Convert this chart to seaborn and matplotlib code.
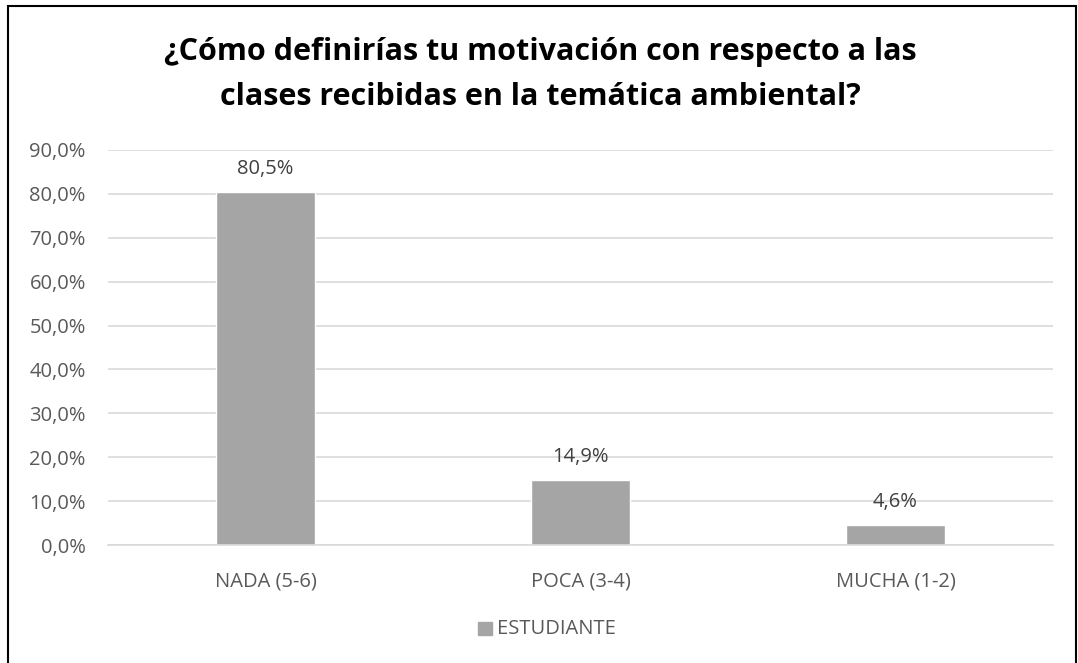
import pandas as pd
import matplotlib.pyplot as plt
import seaborn as sns
from matplotlib.patches import Rectangle
from matplotlib.ticker import FuncFormatter

# Chart data
categorias = ["NADA (5-6)", "POCA (3-4)", "MUCHA (1-2)"]
valores = [80.5, 14.9, 4.6]
serie = "ESTUDIANTE"
titulo = ["¿Cómo definirías tu motivación con respecto a las",
          "clases recibidas en la temática ambiental?"]

df = pd.DataFrame({"categoria": categorias, "valor": valores, "serie": serie})

sns.set_style("white")
plt.rcParams['font.family'] = ['Open Sans', 'DejaVu Sans']

W, H = 1078, 663
fig = plt.figure(figsize=(W / 100, H / 100), dpi=100)
ax = fig.add_axes([108 / W, 1 - 545 / H, 945 / W, 395 / H])

gray_txt = "#595959"
sns.barplot(data=df, x="categoria", y="valor", hue="serie", palette=["#A5A5A5"],
            width=0.317, saturation=1, ax=ax, legend=False)

ax.set_ylim(0, 90)
ax.set_yticks(range(0, 91, 10))
ax.yaxis.set_major_formatter(FuncFormatter(lambda v, p: f"{v:.1f}%".replace(".", ",")))
ax.grid(axis='y', color="#D9D9D9", linewidth=1.2)
ax.set_axisbelow(True)
for s in ["top", "right", "left"]:
    ax.spines[s].set_visible(False)
ax.spines["bottom"].set_color("#D9D9D9")
ax.spines["bottom"].set_linewidth(1.2)
ax.tick_params(axis='both', length=0, labelsize=14.5, colors=gray_txt)
ax.tick_params(axis='y', pad=16)
ax.tick_params(axis='x', pad=19)
ax.set_xlabel("")
ax.set_ylabel("")

# Data labels
for cont in ax.containers:
    ax.bar_label(cont, labels=[f"{v:.1f}%".replace(".", ",") for v in valores],
                 padding=9, fontsize=14.5, color="#404040")

# Title
fig.text(0.501, 1 - 52 / H, titulo[0], ha='center', va='center', fontsize=22,
         fontweight='bold', color="black")
fig.text(0.501, 1 - 97 / H, titulo[1], ha='center', va='center', fontsize=22,
         fontweight='bold', color="black")

# Legend
fig.patches.append(Rectangle((478 / W, 1 - 635 / H), 14 / W, 13 / H,
                             transform=fig.transFigure, color="#A5A5A5"))
fig.text(497 / W, 1 - 629 / H, serie, ha='left', va='center', fontsize=14.5, color=gray_txt)

# Outer border
fig.patches.append(Rectangle((8 / W, -0.01), 1068 / W, 1 - 6 / H + 0.01,
                             transform=fig.transFigure, fill=False, edgecolor="black",
                             linewidth=1.5))

fig.savefig("out.png", dpi=100)
